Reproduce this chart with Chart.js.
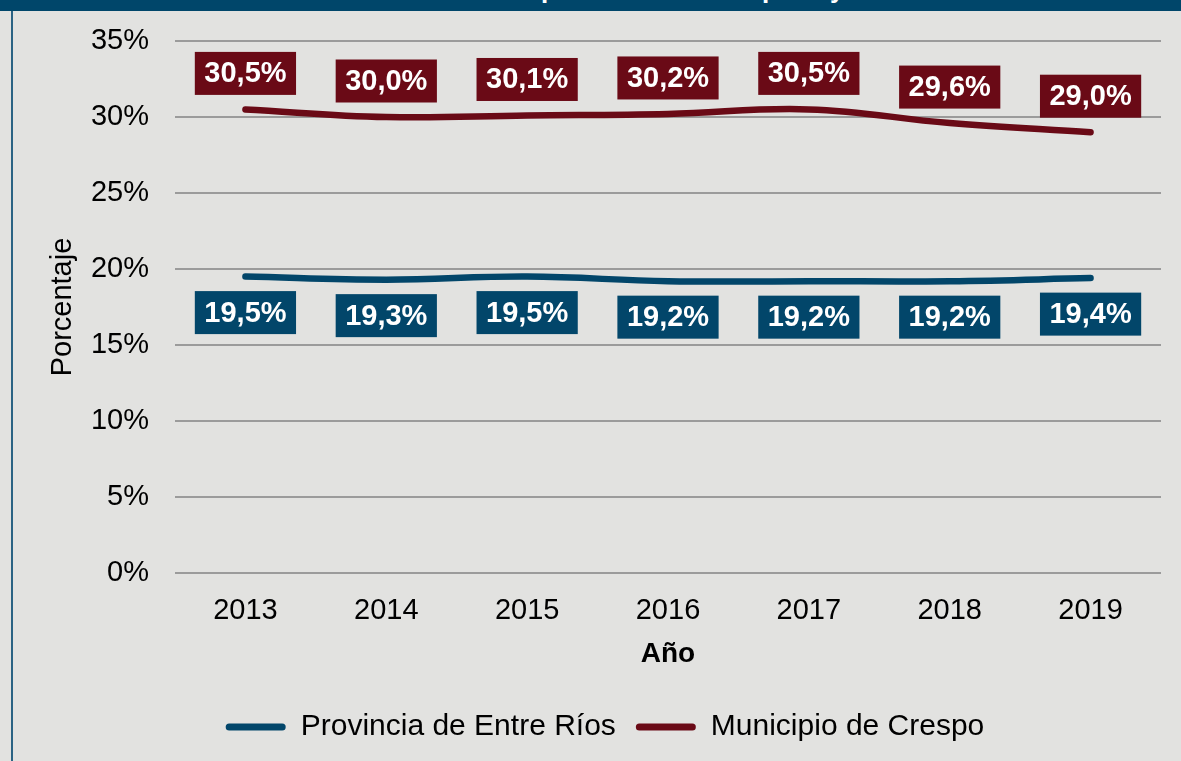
<!DOCTYPE html>
<html>
<head>
<meta charset="utf-8">
<script src="https://cdn.jsdelivr.net/npm/chart.js@4/dist/chart.umd.min.js"></script>
<style>
    html, body { margin: 0; padding: 0; }
    body { width: 1181px; height: 761px; background: #e2e2e0; position: relative; overflow: hidden; font-family: "Liberation Sans", Arial, sans-serif; }
    #topbar { position: absolute; left: 0; top: 0; width: 1181px; height: 11px; background: #00466a; overflow: hidden; }
    #title { position: absolute; top: -24px; white-space: nowrap; color: #fff; font: bold 26px "Liberation Sans", Arial, sans-serif; line-height: 26px; }
    #leftline { position: absolute; left: 11px; top: 11px; width: 2px; height: 750px; background: #2b6384; }
    #wrap { position: absolute; left: 13px; top: 11px; width: 1168px; height: 750px; }
</style>
</head>
<body>
<div id="topbar"><span id="title">Tasa de población desocupada y no activa</span></div>
<div id="leftline"></div>
<div id="wrap"><canvas id="chart"></canvas></div>
<script>
"use strict";

const years = ["2013", "2014", "2015", "2016", "2017", "2018", "2019"];
const entreRios = [19.5, 19.3, 19.5, 19.2, 19.2, 19.2, 19.4];
const crespo = [30.5, 30.0, 30.1, 30.2, 30.5, 29.6, 29.0];
const seriesNames = ["Provincia de Entre Ríos", "Municipio de Crespo"];
const yTicks = [0, 5, 10, 15, 20, 25, 30, 35];

const FONT = '"Liberation Sans", Arial, sans-serif';
const BLUE = "#02466a";
const RED = "#6a0a16";

// place the clipped title so the first "p" falls where it does in the picture
(function () {
    const ctx = document.createElement("canvas").getContext("2d");
    ctx.font = "bold 26px " + FONT;
    const w = ctx.measureText("Tasa de ").width;
    document.getElementById("title").style.left = (541 - w) + "px";
})();

function fmt(v) {
    return v.toFixed(1).replace(".", ",") + "%";
}

// boxed value labels, above or below each point
const boxLabels = {
    id: "boxLabels",
    afterDatasetsDraw(chart) {
        const ctx = chart.ctx;
        ctx.save();
        ctx.font = "bold 29px " + FONT;
        ctx.textAlign = "center";
        ctx.textBaseline = "middle";
        chart.data.datasets.forEach((ds, i) => {
            const meta = chart.getDatasetMeta(i);
            const shift = ds.labelShift;
            meta.data.forEach((pt, j) => {
                const txt = fmt(ds.data[j]);
                const w = ctx.measureText(txt).width + 19;
                const h = 43;
                const cy = pt.y + shift;
                ctx.fillStyle = ds.borderColor;
                ctx.fillRect(pt.x - w / 2, cy - h / 2, w, h);
                ctx.fillStyle = "#fff";
                ctx.fillText(txt, pt.x, cy + 1);
            });
        });
        ctx.restore();
    },
};

const myChart = new Chart(document.getElementById("chart"), {
    type: "line",
    data: {
        labels: years,
        datasets: [
            {
                label: seriesNames[0],
                data: entreRios,
                borderColor: BLUE,
                backgroundColor: BLUE,
                labelShift: 36,
            },
            {
                label: seriesNames[1],
                data: crespo,
                borderColor: RED,
                backgroundColor: RED,
                labelShift: -36,
            },
        ],
    },
    options: {
        responsive: true,
        maintainAspectRatio: false,
        animation: false,
        layout: { autoPadding: false, padding: { top: 30, right: 20, left: 36, bottom: 9 } },
        elements: {
            line: { borderWidth: 6.5, borderCapStyle: "round", borderJoinStyle: "round", tension: 0.4 },
            point: { radius: 0, hoverRadius: 0 },
        },
        scales: {
            x: {
                offset: true,
                grid: { display: false, drawTicks: false },
                border: { display: false },
                ticks: { color: "#000", font: { family: FONT, size: 29 }, padding: 21 },
                title: { display: true, text: "Año", color: "#000", font: { family: FONT, size: 28, weight: "bold" }, padding: { top: 0, bottom: 21 } },
                afterFit: (s) => { s.height = 119; },
            },
            y: {
                min: 0,
                max: 35,
                afterBuildTicks: (s) => { s.ticks = yTicks.map((v) => ({ value: v })); },
                grid: { color: "#9b9b9b", lineWidth: 2, drawTicks: false },
                border: { display: false },
                ticks: { color: "#000", font: { family: FONT, size: 29 }, padding: 26, callback: (v) => v + "%" },
                title: { display: true, text: "Porcentaje", color: "#000", font: { family: FONT, size: 29 }, padding: { top: -3, bottom: 0 } },
                afterFit: (s) => {
                    s.width = 126;
                    s.paddingTop = 0;
                    s.paddingBottom = 0;
                },
            },
        },
        plugins: {
            tooltip: { enabled: false },
            legend: {
                position: "bottom",
                labels: {
                    color: "#000",
                    font: { family: FONT, size: 30 },
                    boxWidth: 60,
                    boxHeight: 7,
                    useBorderRadius: true,
                    borderRadius: 3.5,
                    padding: 20,
                    generateLabels: (chart) =>
                        Chart.defaults.plugins.legend.labels.generateLabels(chart).map((l) => ({ ...l, lineWidth: 0 })),
                },
            },
        },
    },
    plugins: [boxLabels],
});
</script>
</body>
</html>
